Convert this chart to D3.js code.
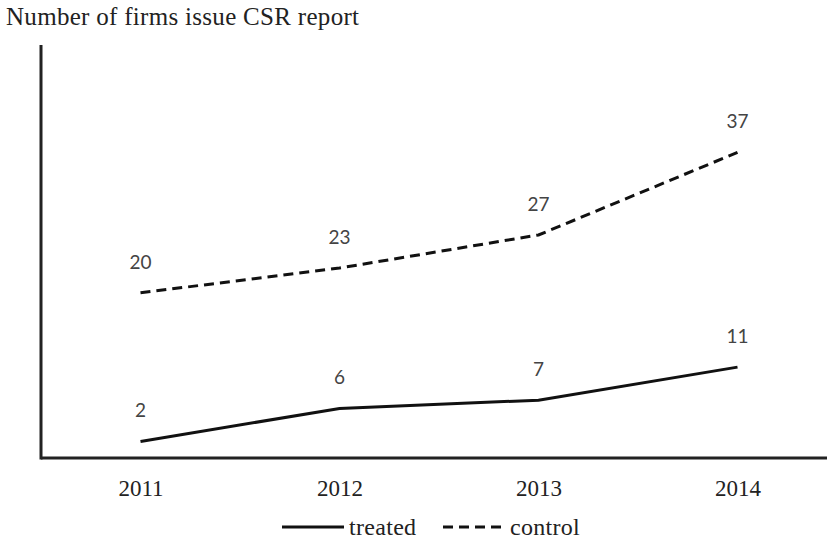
<!DOCTYPE html>
<html>
<head>
<meta charset="utf-8">
<script src="https://cdn.jsdelivr.net/npm/d3@7"></script>
<style>
  body { margin: 0; background: #fff; }
  svg { display: block; }
</style>
</head>
<body>
<div id="chart"></div>
<script>
// data
const years = ['2011', '2012', '2013', '2014'];
const treated = [2, 6, 7, 11];
const control = [20, 23, 27, 37];
const yDomain = [0, 50];

const width = 827;
const height = 545;
const marginLeft = 41;
const marginTop = 45;
const marginBottom = 87;
const serif = '"Liberation Serif", "Times New Roman", serif';

const $svg = d3.select('#chart').append('svg')
	.attr('width', width)
	.attr('height', height);

// scales
const scaleX = d3.scalePoint()
	.domain(years)
	.range([marginLeft, 837])
	.padding(0.5);

const scaleY = d3.scaleLinear()
	.domain(yDomain)
	.range([height - marginBottom, marginTop]);

// title
$svg.append('text')
	.attr('x', 6)
	.attr('y', 25)
	.attr('font-family', serif)
	.attr('font-size', 25)
	.attr('letter-spacing', 0.3)
	.attr('fill', '#222')
	.text('Number of firms issue CSR report');

// axes
const xAxis = d3.axisBottom(scaleX).tickSize(0).tickPadding(22);
const $xAxis = $svg.append('g')
	.attr('transform', `translate(0, ${scaleY(0)})`)
	.call(xAxis);
$xAxis.select('.domain')
	.attr('d', `M${marginLeft},0H${width}`)
	.attr('stroke', '#222')
	.attr('stroke-width', 3);
$xAxis.selectAll('text')
	.attr('font-family', serif)
	.attr('font-size', 23)
	.attr('fill', '#222');

const yAxis = d3.axisLeft(scaleY).tickValues([]).tickSize(0);
const $yAxis = $svg.append('g')
	.attr('transform', `translate(${marginLeft}, 0)`)
	.call(yAxis);
$yAxis.select('.domain')
	.attr('d', `M0,${marginTop}V${scaleY(0) + 1.5}`)
	.attr('stroke', '#222')
	.attr('stroke-width', 3);

// lines
const line = d3.line()
	.x((d, i) => scaleX(years[i]))
	.y(d => scaleY(d));

const series = [
	{ key: 'treated', values: treated, dash: null },
	{ key: 'control', values: control, dash: '10,6' }
];

series.forEach(s => {
	$svg.append('path')
		.datum(s.values)
		.attr('d', line)
		.attr('fill', 'none')
		.attr('stroke', '#111')
		.attr('stroke-width', 3)
		.attr('stroke-dasharray', s.dash);

	$svg.selectAll(`.label-${s.key}`)
		.data(s.values)
		.enter()
		.append('text')
		.attr('class', `label-${s.key}`)
		.attr('x', (d, i) => scaleX(years[i]))
		.attr('y', d => scaleY(d) - 24)
		.attr('text-anchor', 'middle')
		.attr('font-family', 'Lato, "Open Sans", sans-serif')
		.attr('font-size', 19)
		.attr('fill', '#444')
		.text(d => d);
});

// legend
const legendY = 527;
const legendItems = [
	{ key: 'treated', x: 282, dash: null },
	{ key: 'control', x: 443, dash: '10,6' }
];
const $legend = $svg.append('g');
legendItems.forEach(item => {
	$legend.append('line')
		.attr('x1', item.x)
		.attr('x2', item.x + 62)
		.attr('y1', legendY)
		.attr('y2', legendY)
		.attr('stroke', '#111')
		.attr('stroke-width', 3)
		.attr('stroke-dasharray', item.dash);
	$legend.append('text')
		.attr('x', item.x + 67)
		.attr('y', legendY + 8)
		.attr('font-family', serif)
		.attr('font-size', 24)
		.attr('letter-spacing', 0.3)
		.attr('fill', '#222')
		.text(item.key);
});
</script>
</body>
</html>
